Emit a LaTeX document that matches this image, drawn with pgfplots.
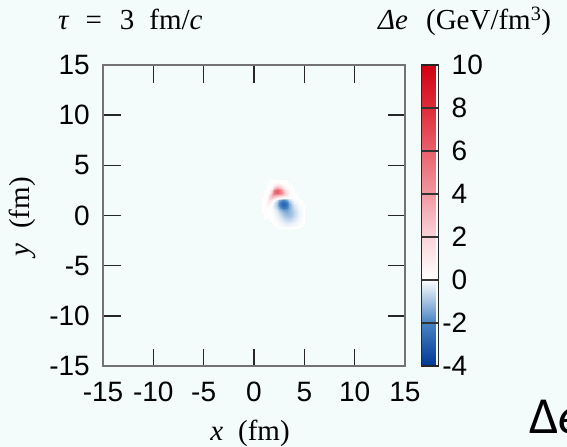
\documentclass[border=0pt]{standalone}
\usepackage{fontspec}
\setmainfont{Liberation Sans}
\newfontfamily\tnr{Liberation Serif}
\newfontfamily\carl{Carlito}
\usepackage{pgfplots}
\pgfplotsset{compat=1.18}
\definecolor{bg}{RGB}{244,252,251}
\definecolor{axgray}{RGB}{115,115,115}
\newcommand\tickfont{\fontsize{28bp}{30bp}\selectfont}
\newcommand\labfont{\tnr\fontsize{29bp}{32bp}\selectfont}

\begin{document}
\begin{tikzpicture}
\fill[bg] (0,0) rectangle (567bp,-447bp);
\begin{axis}[
  at={(103bp,-366bp)}, anchor=south west,
  scale only axis, width=302bp, height=301bp,
  xmin=-15, xmax=15, ymin=-15, ymax=15,
  xtick={-15,-10,...,15}, ytick={-15,-10,...,15},
  tick align=inside, major tick length=17.5bp,
  axis line style={draw=axgray, line width=1.8bp},
  every tick/.append style={draw=black!85, line width=1.5bp},
  axis background/.style={fill=bg},
  /pgf/number format/assume math mode=true,
  tick label style={font=\tickfont, inner sep=0pt},
  yticklabel style={anchor=east, xshift=-13bp},
  xticklabel style={anchor=north, yshift=-16bp},
  colormap={dEmap}{
    rgb255(0pt)=(0,55,150)
    rgb255(2pt)=(70,132,195)
    rgb255(4pt)=(255,255,255)
    rgb255(6pt)=(251,212,217)
    rgb255(8pt)=(242,152,162)
    rgb255(10pt)=(233,98,108)
    rgb255(12pt)=(222,45,58)
    rgb255(14pt)=(208,0,18)
  },
  point meta min=-4, point meta max=10,
  colorbar,
  colorbar style={
    at={(parent axis.north east)}, anchor=north west, xshift=8bp,
    width=17bp,
    ytick={-4,-2,...,10},
    tick align=inside, major tick length=17bp,
    every tick/.append style={draw=black!80, line width=1.3bp},
    axis line style={draw=black!85, line width=1.5bp},
    /pgf/number format/assume math mode=true,
    yticklabel style={font=\tickfont, inner sep=0pt, anchor=west, xshift=13bp},
    yticklabel={\pgfmathparse{abs(\tick)}\ifdim\tick pt<0pt\llap{-}\fi\pgfmathprintnumber{\pgfmathresult}},
  },
  unbounded coords=jump,
]
% energy density difference on a 0.25 fm grid; nan marks cells outside the fluid patch
\addplot[surf, shader=interp, point meta=explicit, mesh/cols=18] coordinates {
(0.75,nan)[0] (1,nan)[0] (1.25,nan)[0] (1.5,3.5)[0] (1.75,3.5)[0] (2,3.5)[0] (2.25,3.5)[0] (2.5,3.5)[0] (2.75,3.5)[0] (3,3.5)[0] (3.25,3.5)[0] (3.5,nan)[0] (3.75,nan)[0] (4,nan)[0] (4.25,nan)[0] (4.5,nan)[0] (4.75,nan)[0] (5,nan)[0]
(0.75,nan)[0] (1,nan)[0] (1.25,nan)[0] (1.5,3.25)[0] (1.75,3.25)[0.01] (2,3.25)[0.14] (2.25,3.25)[0.29] (2.5,3.25)[0.23] (2.75,3.25)[0.10] (3,3.25)[0.04] (3.25,3.25)[0.01] (3.5,3.25)[0] (3.75,nan)[0] (4,nan)[0] (4.25,nan)[0] (4.5,nan)[0] (4.75,nan)[0] (5,nan)[0]
(0.75,nan)[0] (1,nan)[0] (1.25,3)[0] (1.5,3)[0] (1.75,3)[0.10] (2,3)[0.77] (2.25,3)[1.31] (2.5,3)[1.13] (2.75,3)[0.62] (3,3)[0.23] (3.25,3)[0.05] (3.5,3)[0] (3.75,3)[0] (4,nan)[0] (4.25,nan)[0] (4.5,nan)[0] (4.75,nan)[0] (5,nan)[0]
(0.75,nan)[0] (1,nan)[0] (1.25,2.75)[0] (1.5,2.75)[0.01] (1.75,2.75)[0.55] (2,2.75)[2.47] (2.25,2.75)[3.68] (2.5,2.75)[3.24] (2.75,2.75)[2.04] (3,2.75)[0.91] (3.25,2.75)[0.26] (3.5,2.75)[0.04] (3.75,2.75)[0] (4,2.75)[0] (4.25,nan)[0] (4.5,nan)[0] (4.75,nan)[0] (5,nan)[0]
(0.75,nan)[0] (1,2.5)[0] (1.25,2.5)[0] (1.5,2.5)[0.10] (1.75,2.5)[1.72] (2,2.5)[4.81] (2.25,2.5)[6.14] (2.5,2.5)[5.51] (2.75,2.5)[3.91] (3,2.5)[2.09] (3.25,2.5)[0.74] (3.5,2.5)[0.17] (3.75,2.5)[0.01] (4,2.5)[0] (4.25,nan)[0] (4.5,nan)[0] (4.75,nan)[0] (5,nan)[0]
(0.75,nan)[0] (1,2.25)[0] (1.25,2.25)[0] (1.5,2.25)[0.47] (1.75,2.25)[3.12] (2,2.25)[5.56] (2.25,2.25)[6.08] (2.5,2.25)[5.59] (2.75,2.25)[4.39] (3,2.25)[2.80] (3.25,2.25)[1.30] (3.5,2.25)[0.38] (3.75,2.25)[0.05] (4,2.25)[0] (4.25,2.25)[0] (4.5,nan)[0] (4.75,nan)[0] (5,nan)[0]
(0.75,nan)[0] (1,2)[0] (1.25,2)[0.04] (1.5,2)[1.13] (1.75,2)[3.43] (2,2)[3.81] (2.25,2)[3.46] (2.5,2)[3.12] (2.75,2)[2.59] (3,2)[1.89] (3.25,2)[1.12] (3.5,2)[0.46] (3.75,2)[0.08] (4,2)[-0.04] (4.25,2)[0] (4.5,nan)[0] (4.75,nan)[0] (5,nan)[0]
(0.75,1.75)[0] (1,1.75)[0] (1.25,1.75)[0.14] (1.5,1.75)[1.63] (1.75,1.75)[2.26] (2,1.75)[1.44] (2.25,1.75)[0.81] (2.5,1.75)[0.36] (2.75,1.75)[-0.01] (3,1.75)[-0.12] (3.25,1.75)[-0.02] (3.5,1.75)[0.05] (3.75,1.75)[0.01] (4,1.75)[-0.01] (4.25,1.75)[-0.01] (4.5,1.75)[0] (4.75,nan)[0] (5,nan)[0]
(0.75,1.5)[0] (1,1.5)[0] (1.25,1.5)[0.36] (1.5,1.5)[1.37] (1.75,1.5)[0.83] (2,1.5)[0.07] (2.25,1.5)[-0.53] (2.5,1.5)[-1.25] (2.75,1.5)[-1.86] (3,1.5)[-1.90] (3.25,1.5)[-1.36] (3.5,1.5)[-0.66] (3.75,1.5)[-0.22] (4,1.5)[-0.08] (4.25,1.5)[-0.06] (4.5,1.5)[-0.01] (4.75,1.5)[0] (5,nan)[0]
(0.75,1.25)[0] (1,1.25)[0.01] (1.25,1.25)[0.55] (1.5,1.25)[0.69] (1.75,1.25)[0.10] (2,1.25)[-0.34] (2.25,1.25)[-0.96] (2.5,1.25)[-1.91] (2.75,1.25)[-2.69] (3,1.25)[-2.80] (3.25,1.25)[-2.17] (3.5,1.25)[-1.24] (3.75,1.25)[-0.54] (4,1.25)[-0.20] (4.25,1.25)[-0.12] (4.5,1.25)[-0.04] (4.75,1.25)[0] (5,nan)[0]
(0.75,1)[0] (1,1)[0.05] (1.25,1)[0.49] (1.5,1)[0.20] (1.75,1)[-0.07] (2,1)[-0.37] (2.25,1)[-0.95] (2.5,1)[-1.82] (2.75,1)[-2.64] (3,1)[-2.81] (3.25,1)[-2.28] (3.5,1)[-1.46] (3.75,1)[-0.76] (4,1)[-0.40] (4.25,1)[-0.18] (4.5,1)[-0.08] (4.75,1)[-0.04] (5,1)[0]
(0.75,0.75)[0] (1,0.75)[0.10] (1.25,0.75)[0.27] (1.5,0.75)[0.03] (1.75,0.75)[-0.08] (2,0.75)[-0.28] (2.25,0.75)[-0.71] (2.5,0.75)[-1.36] (2.75,0.75)[-1.99] (3,0.75)[-2.21] (3.25,0.75)[-1.93] (3.5,0.75)[-1.38] (3.75,0.75)[-0.88] (4,0.75)[-0.50] (4.25,0.75)[-0.28] (4.5,0.75)[-0.13] (4.75,0.75)[-0.05] (5,0.75)[0]
(0.75,0.5)[0] (1,0.5)[0.14] (1.25,0.5)[0.09] (1.5,0.5)[-0.01] (1.75,0.5)[-0.05] (2,0.5)[-0.18] (2.25,0.5)[-0.44] (2.5,0.5)[-0.85] (2.75,0.5)[-1.31] (3,0.5)[-1.56] (3.25,0.5)[-1.51] (3.5,0.5)[-1.26] (3.75,0.5)[-0.92] (4,0.5)[-0.61] (4.25,0.5)[-0.36] (4.5,0.5)[-0.18] (4.75,0.5)[-0.08] (5,0.5)[0]
(0.75,0.25)[0] (1,0.25)[0.10] (1.25,0.25)[0.01] (1.5,0.25)[0] (1.75,0.25)[-0.04] (2,0.25)[-0.11] (2.25,0.25)[-0.28] (2.5,0.25)[-0.54] (2.75,0.25)[-0.89] (3,0.25)[-1.14] (3.25,0.25)[-1.25] (3.5,0.25)[-1.18] (3.75,0.25)[-0.94] (4,0.25)[-0.66] (4.25,0.25)[-0.40] (4.5,0.25)[-0.20] (4.75,0.25)[-0.08] (5,0.25)[0]
(0.75,nan)[0] (1,0)[0.05] (1.25,0)[0] (1.5,0)[0] (1.75,0)[-0.02] (2,0)[-0.07] (2.25,0)[-0.19] (2.5,0)[-0.37] (2.75,0)[-0.64] (3,0)[-0.88] (3.25,0)[-1.03] (3.5,0)[-1.02] (3.75,0)[-0.85] (4,0)[-0.61] (4.25,0)[-0.37] (4.5,0)[-0.19] (4.75,0)[-0.08] (5,0)[0]
(0.75,nan)[0] (1,-0.25)[0] (1.25,-0.25)[0] (1.5,-0.25)[0] (1.75,-0.25)[-0.01] (2,-0.25)[-0.06] (2.25,-0.25)[-0.13] (2.5,-0.25)[-0.26] (2.75,-0.25)[-0.46] (3,-0.25)[-0.65] (3.25,-0.25)[-0.78] (3.5,-0.25)[-0.79] (3.75,-0.25)[-0.66] (4,-0.25)[-0.48] (4.25,-0.25)[-0.29] (4.5,-0.25)[-0.14] (4.75,-0.25)[-0.07] (5,-0.25)[0]
(0.75,nan)[0] (1,nan)[0] (1.25,nan)[0] (1.5,-0.5)[0] (1.75,-0.5)[0] (2,-0.5)[-0.04] (2.25,-0.5)[-0.08] (2.5,-0.5)[-0.17] (2.75,-0.5)[-0.29] (3,-0.5)[-0.42] (3.25,-0.5)[-0.52] (3.5,-0.5)[-0.53] (3.75,-0.5)[-0.44] (4,-0.5)[-0.32] (4.25,-0.5)[-0.20] (4.5,-0.5)[-0.11] (4.75,-0.5)[-0.04] (5,-0.5)[0]
(0.75,nan)[0] (1,nan)[0] (1.25,nan)[0] (1.5,nan)[0] (1.75,-0.75)[0] (2,-0.75)[-0.02] (2.25,-0.75)[-0.05] (2.5,-0.75)[-0.10] (2.75,-0.75)[-0.17] (3,-0.75)[-0.25] (3.25,-0.75)[-0.30] (3.5,-0.75)[-0.30] (3.75,-0.75)[-0.25] (4,-0.75)[-0.19] (4.25,-0.75)[-0.12] (4.5,-0.75)[-0.06] (4.75,-0.75)[-0.02] (5,-0.75)[0]
(0.75,nan)[0] (1,nan)[0] (1.25,nan)[0] (1.5,nan)[0] (1.75,nan)[0] (2,-1)[0] (2.25,-1)[-0.02] (2.5,-1)[-0.05] (2.75,-1)[-0.08] (3,-1)[-0.12] (3.25,-1)[-0.14] (3.5,-1)[-0.14] (3.75,-1)[-0.12] (4,-1)[-0.08] (4.25,-1)[-0.05] (4.5,-1)[-0.02] (4.75,-1)[0] (5,nan)[0]
(0.75,nan)[0] (1,nan)[0] (1.25,nan)[0] (1.5,nan)[0] (1.75,nan)[0] (2,nan)[0] (2.25,-1.25)[0] (2.5,-1.25)[0] (2.75,-1.25)[0] (3,-1.25)[0] (3.25,-1.25)[0] (3.5,-1.25)[0] (3.75,-1.25)[0] (4,-1.25)[0] (4.25,-1.25)[0] (4.5,-1.25)[0] (4.75,nan)[0] (5,nan)[0]
};
\end{axis}
% titles and axis labels
\node[anchor=base west, inner sep=0pt, font=\labfont] at (58bp,-29bp)
  {\itshape τ\upshape\hspace{17bp}=\hspace{18bp}3\hspace{15bp}fm/\itshape c};
\node[anchor=base west, inner sep=0pt, font=\labfont] at (378bp,-29bp)
  {\itshape Δe\upshape\hspace{18bp}(GeV/fm\textsuperscript{3})};
\node[anchor=base, inner sep=0pt, font=\labfont] at (250bp,-440bp)
  {\itshape x\upshape\hspace{15bp}(fm)};
\node[rotate=90, inner sep=0pt, font=\labfont] at (22bp,-217bp)
  {\itshape y\upshape\hspace{15bp}(fm)};
\node[overlay, anchor=base west, inner sep=0pt, font=\carl\fontsize{52bp}{56bp}\selectfont] at (529bp,-433bp)
  {Δ\itshape e};
\end{tikzpicture}
\end{document}
